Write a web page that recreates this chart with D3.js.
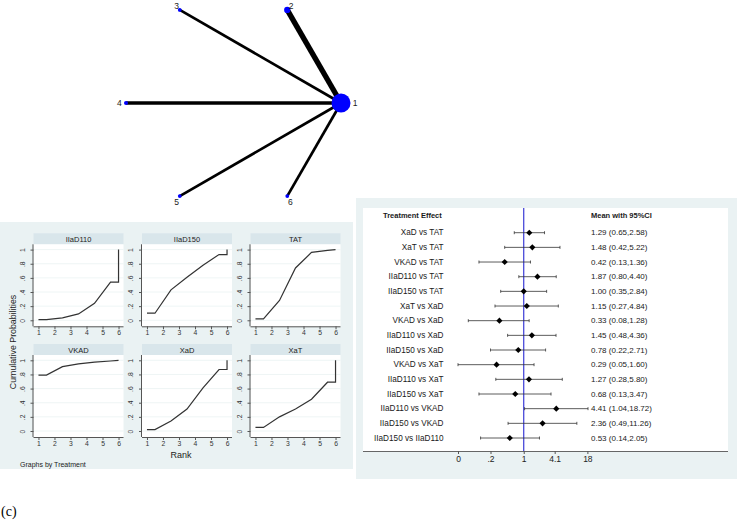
<!DOCTYPE html>
<html>
<head>
<meta charset="utf-8">
<script src="https://cdn.jsdelivr.net/npm/d3@7"></script>
<style>
  body { margin: 0; background: #fff; }
  svg { display: block; font-family: "Liberation Sans", Arial, sans-serif; }
</style>
</head>
<body>
<svg id="chart" width="738" height="523"></svg>
<script>
// network plot data
const netNodes = ["1", "2", "3", "4", "5", "6"];
const nodeWeight = [100, 11, 4, 4.5, 4, 4];
const edgeFrom = ["1", "1", "1", "1", "1"];
const edgeTo = ["2", "3", "4", "5", "6"];
const edgeStudies = [6, 3, 4, 3, 3];

// rankogram data (cumulative probabilities, drawn at these rank positions)
const treatments = ["IIaD110", "IIaD150", "TAT", "VKAD", "XaD", "XaT"];
const rankX = [1, 1.5, 2.5, 3.5, 4.5, 5.5, 6, 6];
const cumIIaD110 = [0.01, 0.01, 0.035, 0.09, 0.24, 0.54, 0.54, 1];
const cumIIaD150 = [0.1, 0.1, 0.43, 0.61, 0.78, 0.93, 0.93, 1];
const cumTAT = [0.02, 0.02, 0.28, 0.74, 0.96, 0.99, 1, 1];
const cumVKAD = [0.79, 0.79, 0.91, 0.95, 0.975, 0.99, 1, 1];
const cumXaD = [0.02, 0.02, 0.14, 0.31, 0.61, 0.87, 0.87, 1];
const cumXaT = [0.05, 0.05, 0.2, 0.31, 0.45, 0.69, 0.69, 1];
const rankTicks = [1, 2, 3, 4, 5, 6];
const probTicks = [0, 0.2, 0.4, 0.6, 0.8, 1];
const probLabels = ["0", ".2", ".4", ".6", ".8", "1"];

// forest plot data
const comparisons = [
  "XaD vs TAT", "XaT vs TAT", "VKAD vs TAT", "IIaD110 vs TAT", "IIaD150 vs TAT",
  "XaT vs XaD", "VKAD vs XaD", "IIaD110 vs XaD", "IIaD150 vs XaD", "VKAD vs XaT",
  "IIaD110 vs XaT", "IIaD150 vs XaT", "IIaD110 vs VKAD", "IIaD150 vs VKAD", "IIaD150 vs IIaD110",
];
const means = [1.29, 1.48, 0.42, 1.87, 1.0, 1.15, 0.33, 1.45, 0.78, 0.29, 1.27, 0.68, 4.41, 2.36, 0.53];
const lower = [0.65, 0.42, 0.13, 0.8, 0.35, 0.27, 0.08, 0.48, 0.22, 0.05, 0.28, 0.13, 1.04, 0.49, 0.14];
const upper = [2.58, 5.22, 1.36, 4.4, 2.84, 4.84, 1.28, 4.36, 2.71, 1.6, 5.8, 3.47, 18.72, 11.26, 2.05];
const effectTicks = [0.05, 0.22, 1, 4.1, 18.2];
const effectTickLabels = ["0", ".2", "1", "4.1", "18"];

const svg = d3.select("#chart");
const bgColor = "#eaf2f3";
const stripColor = "#d9e6eb";

// ---------- network ----------
const net = svg.append("g").attr("class", "network");
const angle = d3.scaleLinear().domain([0, netNodes.length]).range([0, 2 * Math.PI]);
const netX = d3.scaleLinear().domain([-1, 1]).range([126, 341]);
const netY = d3.scaleLinear().domain([-1, 1]).range([210.5, -4.5]);
const nodeR = d3.scaleSqrt().domain([0, d3.max(nodeWeight)]).range([0, 9.5]);
const edgeW = d3.scaleLinear().domain([0, d3.max(edgeStudies)]).range([0, 5.4]);

const nodes = netNodes.map((id, i) => ({
  id,
  a: angle(i),
  x: netX(Math.cos(angle(i))),
  y: netY(Math.sin(angle(i))),
  r: nodeR(nodeWeight[i]),
}));
const nodeById = new Map(nodes.map((d) => [d.id, d]));
const edges = edgeFrom.map((f, i) => ({
  source: nodeById.get(f),
  target: nodeById.get(edgeTo[i]),
  w: edgeW(edgeStudies[i]),
}));

net
  .selectAll("line")
  .data(edges)
  .join("line")
  .attr("x1", (d) => d.source.x)
  .attr("y1", (d) => d.source.y)
  .attr("x2", (d) => d.target.x)
  .attr("y2", (d) => d.target.y)
  .attr("stroke", "#000")
  .attr("stroke-width", (d) => d.w);

net
  .selectAll("circle")
  .data(nodes)
  .join("circle")
  .attr("cx", (d) => d.x)
  .attr("cy", (d) => d.y)
  .attr("r", (d) => d.r)
  .attr("fill", "#0000ff");

// labels sit just outside each node, kept inside the top edge
net
  .selectAll("text")
  .data(nodes)
  .join("text")
  .attr("x", (d) => d.x + Math.cos(d.a) * (d.r + 4.5))
  .attr("y", (d) => Math.max(5.5, d.y - Math.sin(d.a) * (d.r + 4.5)))
  .attr("text-anchor", "middle")
  .attr("dominant-baseline", "central")
  .attr("font-size", 8.5)
  .attr("fill", "#222")
  .text((d) => d.id);

// ---------- rankograms ----------
const rank = svg.append("g").attr("class", "rankograms");
rank.append("rect").attr("x", 0).attr("y", 222).attr("width", 353).attr("height", 247).attr("fill", bgColor);

const cumSeries = [cumIIaD110, cumIIaD150, cumTAT, cumVKAD, cumXaD, cumXaT];
const pw = 90;
const ph = 82;
const stripH = 11;
const colX = (i) => 33.5 + i * 108.5;
const rowY = (i) => 233.3 + i * 110.7;
const xr = d3.scaleLinear().domain([0.69, 6.31]).range([0, pw]);
const yr = d3.scaleLinear().domain([-0.085, 1.075]).range([ph, 0]);
const line = d3.line().x((d) => xr(d[0])).y((d) => yr(d[1]));

treatments.forEach((t, i) => {
  const g = rank
    .append("g")
    .attr("transform", `translate(${colX(i % 3)},${rowY(Math.floor(i / 3))})`);
  g.append("rect").attr("width", pw).attr("height", stripH).attr("fill", stripColor);
  g.append("text")
    .attr("x", pw / 2)
    .attr("y", stripH / 2 + 0.5)
    .attr("text-anchor", "middle")
    .attr("dominant-baseline", "central")
    .attr("font-size", 7.5)
    .attr("fill", "#222")
    .text(t);

  const p = g.append("g").attr("transform", `translate(0,${stripH})`);
  p.append("rect").attr("width", pw).attr("height", ph).attr("fill", "#fff");
  p.selectAll(".grid")
    .data(probTicks)
    .join("line")
    .attr("class", "grid")
    .attr("x1", 0)
    .attr("x2", pw)
    .attr("y1", (d) => yr(d))
    .attr("y2", (d) => yr(d))
    .attr("stroke", bgColor)
    .attr("stroke-width", 0.8);

  p.append("path")
    .datum(rankX.map((x, k) => [x, cumSeries[i][k]]))
    .attr("d", line)
    .attr("fill", "none")
    .attr("stroke", "#333")
    .attr("stroke-width", 1.2);

  const ya = p
    .append("g")
    .call(d3.axisLeft(yr).tickValues(probTicks).tickSize(3).tickFormat((d, k) => probLabels[k]));
  ya.select(".domain").attr("stroke", "#555").attr("d", `M-0.5,${ph}V0`);
  ya.selectAll(".tick line").attr("stroke", "#555");
  ya.selectAll(".tick text")
    .attr("font-size", 6.8)
    .attr("fill", "#333")
    .attr("x", null)
    .attr("dy", null)
    .attr("text-anchor", "middle")
    .attr("transform", "translate(-9,0) rotate(-90)");

  const xa = p
    .append("g")
    .attr("transform", `translate(0,${ph})`)
    .call(d3.axisBottom(xr).tickValues(rankTicks).tickSize(3).tickFormat(d3.format("d")));
  xa.select(".domain").attr("stroke", "#555").attr("d", `M0,0.5H${pw}`);
  xa.selectAll(".tick line").attr("stroke", "#555");
  xa.selectAll(".tick text").attr("font-size", 6.8).attr("fill", "#333").attr("y", 4);
});

rank.append("text")
  .attr("transform", "translate(13,342) rotate(-90)")
  .attr("text-anchor", "middle")
  .attr("dominant-baseline", "central")
  .attr("font-size", 8.8)
  .attr("fill", "#222")
  .text("Cumulative Probabilities");
rank.append("text")
  .attr("x", 181)
  .attr("y", 455)
  .attr("text-anchor", "middle")
  .attr("dominant-baseline", "central")
  .attr("font-size", 9)
  .attr("fill", "#222")
  .text("Rank");
rank.append("text")
  .attr("x", 20)
  .attr("y", 467)
  .attr("font-size", 7)
  .attr("fill", "#222")
  .text("Graphs by Treatment");

// ---------- forest plot ----------
const forest = svg.append("g").attr("class", "forest");
forest.append("rect").attr("x", 356).attr("y", 198).attr("width", 381).attr("height", 281).attr("fill", bgColor);
forest.append("rect").attr("x", 363).attr("y", 208).attr("width", 365).attr("height", 243).attr("fill", "#fff");

const fx = d3.scaleLog().domain([0.05, 18.72]).range([458, 588]);
const fy = d3.scalePoint().domain(comparisons).range([232.7, 438]);

forest.append("line")
  .attr("x1", fx(1))
  .attr("x2", fx(1))
  .attr("y1", 208)
  .attr("y2", 451)
  .attr("stroke", "#3b3bd6")
  .attr("stroke-width", 1.2);

const rows = forest
  .selectAll(".row")
  .data(comparisons.map((c, i) => ({ c, m: means[i], lo: lower[i], hi: upper[i] })))
  .join("g")
  .attr("class", "row")
  .attr("transform", (d) => `translate(0,${fy(d.c)})`);

rows.append("line")
  .attr("x1", (d) => fx(d.lo))
  .attr("x2", (d) => fx(d.hi))
  .attr("stroke", "#333")
  .attr("stroke-width", 0.8);
rows.selectAll(".cap")
  .data((d) => [d.lo, d.hi])
  .join("line")
  .attr("class", "cap")
  .attr("x1", (d) => fx(d))
  .attr("x2", (d) => fx(d))
  .attr("y1", -1.5)
  .attr("y2", 1.5)
  .attr("stroke", "#333")
  .attr("stroke-width", 0.8);
rows.append("path")
  .attr("d", d3.symbol(d3.symbolDiamond2, 24))
  .attr("transform", (d) => `translate(${fx(d.m)},0)`)
  .attr("fill", "#000");
rows.append("text")
  .attr("x", 443.5)
  .attr("text-anchor", "end")
  .attr("dominant-baseline", "central")
  .attr("font-size", 8.2)
  .attr("fill", "#1a1a1a")
  .text((d) => d.c);
rows.append("text")
  .attr("x", 591)
  .attr("dominant-baseline", "central")
  .attr("font-size", 8)
  .attr("fill", "#1a1a1a")
  .text((d) => `${d.m.toFixed(2)} (${d.lo.toFixed(2)},${d.hi.toFixed(2)})`);

forest.append("text")
  .attr("x", 383)
  .attr("y", 215)
  .attr("dominant-baseline", "central")
  .attr("font-size", 7.5)
  .attr("font-weight", "bold")
  .attr("fill", "#1a1a1a")
  .text("Treatment Effect");
forest.append("text")
  .attr("x", 591)
  .attr("y", 215)
  .attr("dominant-baseline", "central")
  .attr("font-size", 7.5)
  .attr("font-weight", "bold")
  .attr("fill", "#1a1a1a")
  .text("Mean with 95%CI");

const fa = forest
  .append("g")
  .attr("transform", "translate(0,451)")
  .call(d3.axisBottom(fx).tickValues(effectTicks).tickSize(3).tickFormat((d, k) => effectTickLabels[k]));
fa.select(".domain").attr("stroke", "#666").attr("d", "M363,0.5H728");
fa.selectAll(".tick line").attr("stroke", "#555");
fa.selectAll(".tick text").attr("font-size", 8.5).attr("fill", "#222").attr("y", 5);

svg.append("text")
  .attr("x", 1)
  .attr("y", 516)
  .attr("font-family", "'Liberation Serif', 'Times New Roman', serif")
  .attr("font-size", 14)
  .attr("fill", "#000")
  .text("(c)");
</script>
</body>
</html>
